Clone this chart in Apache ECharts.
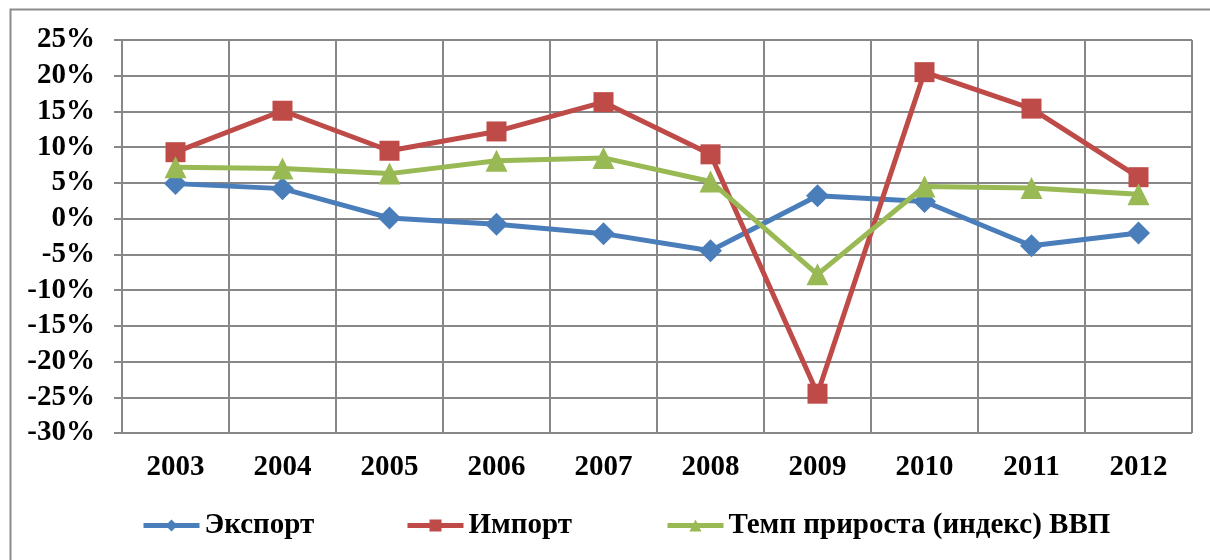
<!DOCTYPE html>
<html>
<head>
<meta charset="utf-8">
<script src="https://cdn.jsdelivr.net/npm/echarts@6/dist/echarts.min.js"></script>
<style>
  html, body { margin: 0; padding: 0; background: #fff; }
  #chart { width: 1210px; height: 560px; }
</style>
</head>
<body>
<div id="chart"></div>
<script>
// данные
const years = ['2003', '2004', '2005', '2006', '2007', '2008', '2009', '2010', '2011', '2012'];
const exportRate = [4.9, 4.2, 0.1, -0.8, -2.1, -4.5, 3.2, 2.4, -3.8, -2.0];
const importRate = [9.3, 15.1, 9.5, 12.2, 16.3, 9.0, -24.5, 20.5, 15.4, 5.8];
const gdpRate = [7.2, 7.0, 6.3, 8.1, 8.5, 5.2, -7.8, 4.5, 4.3, 3.4];
const names = ['Экспорт', 'Импорт', 'Темп прироста (индекс) ВВП'];

const font = 'Liberation Serif';
const gridColor = '#878787';

function legendFor(name, left) {
  return {
    data: [name],
    left: left,
    top: 511,
    padding: 0,
    itemWidth: 56,
    itemHeight: 15,
    lineStyle: { width: 5 },
    textStyle: { fontFamily: font, fontWeight: 'bold', fontSize: 29, color: '#000' }
  };
}

const myChart = echarts.init(document.getElementById('chart'));
myChart.setOption({
  animation: false,
  graphic: [{
    type: 'rect',
    shape: { x: 10.5, y: 9.5, width: 1300, height: 600 },
    style: { fill: 'none', stroke: '#8c8c8c', lineWidth: 2 }
  }],
  grid: { left: 122, right: 18, top: 40, bottom: 127 },
  legend: [
    legendFor(names[0], 141),
    legendFor(names[1], 405),
    legendFor(names[2], 665)
  ],
  xAxis: {
    type: 'category',
    data: years,
    boundaryGap: true,
    axisLine: { lineStyle: { color: gridColor, width: 2 } },
    axisTick: { show: true, length: 7, lineStyle: { color: gridColor, width: 2 } },
    splitLine: { show: true, lineStyle: { color: gridColor, width: 2 } },
    axisLabel: { margin: 20, fontFamily: font, fontWeight: 'bold', fontSize: 29, color: '#000' }
  },
  yAxis: {
    type: 'value',
    min: -30,
    max: 25,
    interval: 5,
    axisLine: { show: true, lineStyle: { color: gridColor, width: 2 } },
    axisTick: { show: true, length: 8, lineStyle: { color: gridColor, width: 2 } },
    splitLine: { show: true, lineStyle: { color: gridColor, width: 2 } },
    axisLabel: {
      margin: 27,
      formatter: '{value}%',
      fontFamily: font, fontWeight: 'bold', fontSize: 29, color: '#000'
    }
  },
  series: [
    {
      name: names[0], type: 'line', data: exportRate,
      symbol: 'diamond', symbolSize: 23,
      lineStyle: { width: 5, color: '#4A7EBB' },
      itemStyle: { color: '#4A7EBB' }
    },
    {
      name: names[1], type: 'line', data: importRate,
      symbol: 'rect', symbolSize: 20,
      lineStyle: { width: 5, color: '#BE4B48' },
      itemStyle: { color: '#BE4B48' }
    },
    {
      name: names[2], type: 'line', data: gdpRate,
      symbol: 'triangle', symbolSize: 22,
      lineStyle: { width: 5, color: '#98B954' },
      itemStyle: { color: '#98B954' }
    }
  ]
});
</script>
</body>
</html>
